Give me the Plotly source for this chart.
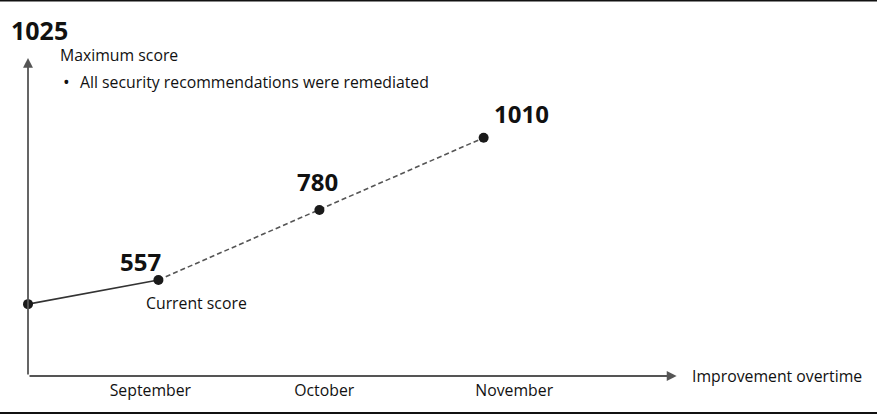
import plotly.graph_objects as go

# ---- data ----
months = ["September", "October", "November"]
month_pos = [0.76, 1.84, 3.02]          # timeline position of month labels (months)
point_pos = [0.0, 0.81, 1.81, 2.83]     # timeline position of each score point (months)
scores = [480, 557, 780, 1010]          # first value estimated (unlabelled)
max_score = 1025
current_idx = 1

FONT = "Open Sans, Noto Sans, DejaVu Sans, sans-serif"
AX = "#555555"
TXT = 15.8

fig = go.Figure()

# solid part (history up to current score)
fig.add_trace(go.Scatter(
    x=point_pos[:current_idx + 1], y=scores[:current_idx + 1],
    mode="lines", line=dict(color="#333333", width=1.6),
    hoverinfo="skip", showlegend=False))
# dashed projection
fig.add_trace(go.Scatter(
    x=point_pos[current_idx:], y=scores[current_idx:],
    mode="lines", line=dict(color="#555555", width=1.6, dash="5px,3px"),
    hoverinfo="skip", showlegend=False))
# markers
fig.add_trace(go.Scatter(
    x=point_pos, y=scores, mode="markers",
    marker=dict(color="#1a1a1a", size=10),
    hoverinfo="skip", showlegend=False, cliponaxis=False))

ann = []
# value labels
shifts = {1: (-18, 18), 2: (-2, 28), 3: (38, 24)}
for i, (xs, ys) in shifts.items():
    ann.append(dict(x=point_pos[i], y=scores[i], xref="x", yref="y",
                    text=f"<b>{scores[i]}</b>", showarrow=False,
                    xanchor="center", yanchor="middle", xshift=xs, yshift=ys,
                    font=dict(family=FONT, size=24, color="#111111")))
ann.append(dict(x=point_pos[current_idx], y=scores[current_idx], xref="x", yref="y",
                text="Current score", showarrow=False, xanchor="center",
                yanchor="middle", xshift=38, yshift=-23,
                font=dict(family=FONT, size=TXT, color="#111111")))

# axes with arrows
ann.append(dict(x=0.764, y=0, xref="x domain", yref="y domain",
                ax=0, ay=0, axref="x domain", ayref="y domain",
                showarrow=True, arrowhead=2, arrowsize=1.1, arrowwidth=1.8,
                arrowcolor=AX, text=""))
ann.append(dict(x=0, y=0.846, xref="x domain", yref="y domain",
                ax=0, ay=0, axref="x domain", ayref="y domain",
                showarrow=True, arrowhead=2, arrowsize=1.1, arrowwidth=1.8,
                arrowcolor=AX, text=""))

ann.append(dict(x=0.78, y=0, xref="x domain", yref="y domain",
                text="Improvement overtime", showarrow=False,
                xanchor="left", yanchor="middle",
                font=dict(family=FONT, size=TXT, color="#111111")))
ann.append(dict(x=-0.022, y=0.92, xref="paper", yref="paper",
                text=f"<b>{max_score}</b>", showarrow=False,
                xanchor="left", yanchor="middle",
                font=dict(family=FONT, size=25, color="#111111")))
ann.append(dict(x=0.0353, y=0.854, xref="paper", yref="paper",
                text="Maximum score", showarrow=False,
                xanchor="left", yanchor="middle",
                font=dict(family=FONT, size=TXT, color="#111111")))
ann.append(dict(x=0.0385, y=0.782, xref="paper", yref="paper",
                text="•", showarrow=False, xanchor="left", yanchor="middle",
                font=dict(family=FONT, size=TXT + 2, color="#111111")))
ann.append(dict(x=0.0589, y=0.782, xref="paper", yref="paper",
                text="All security recommendations were remediated",
                showarrow=False, xanchor="left", yanchor="middle",
                font=dict(family=FONT, size=TXT, color="#111111")))

shapes = [
    dict(type="line", xref="paper", yref="paper", x0=-0.04, x1=1.01,
         y0=0.9987, y1=0.9987, line=dict(color="#111111", width=2)),
    dict(type="line", xref="paper", yref="paper", x0=-0.04, x1=1.01,
         y0=-0.0985, y1=-0.0985, line=dict(color="#111111", width=2)),
]

fig.update_layout(
    width=877, height=415,
    margin=dict(l=28, r=0, t=0, b=39),
    paper_bgcolor="white", plot_bgcolor="white",
    showlegend=False,
    annotations=ann, shapes=shapes,
    xaxis=dict(range=[0, 849 / 161], showgrid=False, zeroline=False,
               showline=False, ticks="", tickvals=month_pos, ticktext=months,
               ticklabelstandoff=3,
               tickfont=dict(family=FONT, size=TXT, color="#111111")),
    yaxis=dict(range=[251, 1449], showgrid=False, zeroline=False,
               showline=False, showticklabels=False, ticks=""),
)

fig.write_html("out.html")
